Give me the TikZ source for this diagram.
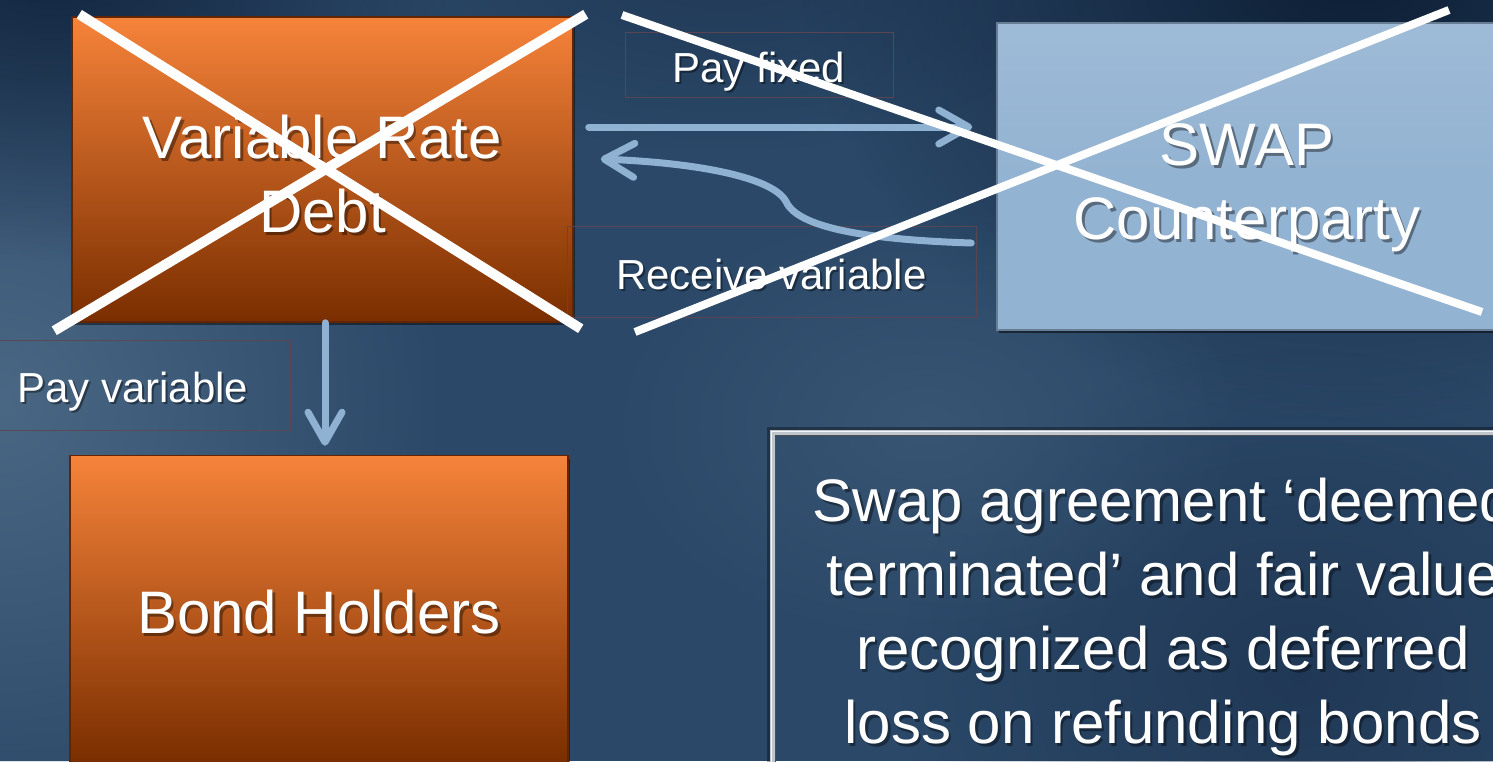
\documentclass[tikz,border=0pt]{standalone}
\usepackage{fontspec}
\setmainfont{Liberation Sans}
\usetikzlibrary{arrows.meta,calc,shadows,fadings}

\definecolor{bgbase}{HTML}{2B4868}
\definecolor{bgdark}{HTML}{0C1D33}
\definecolor{bglight}{HTML}{4A6784}
\definecolor{orangetop}{HTML}{F6833A}
\definecolor{orangemid}{HTML}{C4530E}
\definecolor{orangebot}{HTML}{7A2E00}
\definecolor{swapfill}{HTML}{93B3D2}
\definecolor{flowblue}{HTML}{8FB1D2}
\definecolor{labelframe}{HTML}{5E4650}
\definecolor{noteframe}{HTML}{BFC5CC}

\tikzfading[name=softglow, inner color=transparent!0, outer color=transparent!100]

\tikzset{
  bigtext/.style={text=white, align=center, font=\fontsize{60}{74}\selectfont},
  smalltext/.style={text=white, font=\fontsize{42}{50}\selectfont},
  txtshadow/.style={text=black, text opacity=0.4},
  orangebox/.style={rectangle, draw=orangebot!80!black, line width=1.5pt,
    top color=orangetop, middle color=orangemid, bottom color=orangebot,
    drop shadow={shadow xshift=2pt, shadow yshift=-3pt, opacity=0.45, fill=black}},
  bluebox/.style={rectangle, draw=swapfill!70!black, line width=1.5pt,
    top color=swapfill!90!white, bottom color=swapfill, middle color=swapfill,
    drop shadow={shadow xshift=2pt, shadow yshift=-3pt, opacity=0.5, fill=black}},
  labelbox/.style={rectangle, draw=labelframe, line width=0.8pt, opacity=0.9},
  flow/.style={draw=flowblue, line width=7pt, line cap=round,
    -{Straight Barb[length=30pt, width=34pt, round]}},
  cross/.style={draw=white, line width=10pt},
  crossthin/.style={draw=white, line width=8pt},
  glow/.style={path fading=softglow},
}

\begin{document}
\begin{tikzpicture}[x=1pt, y=-1pt]
  \path[use as bounding box, clip] (0,0) rectangle (1493,761);

  % slate-blue backdrop with a light glow on the left and dark upper corners
  \fill[bgbase] (0,0) rectangle (1493,761);
  \fill[bglight, glow] (-450,-50) rectangle (450,850);
  \fill[bgdark, glow] (800,-520) rectangle (1900,420);
  \fill[bgdark!80!bgbase, glow] (-350,-350) rectangle (450,260);
  \fill[bgdark!60!bgbase, glow, opacity=0.6] (350,-250) rectangle (1100,150);
  \fill[bgdark!50!bgbase, glow, opacity=0.7] (900,350) rectangle (1700,1000);
  \fill[bglight!70!bgbase, glow, opacity=0.6] (600,200) rectangle (1250,650);

  % boxes
  \node[orangebox, minimum width=501pt, minimum height=305pt] (vrd) at (322.5,169.5) {};
  \node[bluebox, minimum width=500pt, minimum height=307pt] (swap) at (1247,176.5) {};
  \node[orangebox, minimum width=498pt, minimum height=307pt] (bond) at (319,609) {};

  % note frame
  \node[rectangle, minimum width=780pt, minimum height=370pt] (note) at (1163,618) {};
  \draw[black, opacity=0.35, line width=3pt] ([shift={(-4pt,-4pt)}]note.south west) rectangle ([shift={(4pt,4pt)}]note.north east);
  \draw[noteframe, line width=5pt] (note.south west) rectangle (note.north east);
  \draw[white!85!noteframe, line width=1.5pt] ([shift={(-1.5pt,-1.5pt)}]note.south west) rectangle ([shift={(1.5pt,1.5pt)}]note.north east);
  \draw[black!60!noteframe, line width=1pt] ([shift={(3pt,3pt)}]note.south west) rectangle ([shift={(-3pt,-3pt)}]note.north east);

  % label frames
  \node[labelbox, minimum width=268pt, minimum height=65pt] (pfbox) at (759,64.5) {};
  \node[labelbox, minimum width=409pt, minimum height=91pt] (rvbox) at (771.5,271.5) {};
  \node[labelbox, minimum width=320pt, minimum height=90pt] (pvbox) at (130,385) {};

  % box texts with their shadows
  \node[bigtext, txtshadow] (vrd-sh) at ($(vrd.center)+(2.5,7.5)$) {Variable Rate\\Debt};
  \node[bigtext] (vrd-txt) at ($(vrd.center)+(0,4.5)$) {Variable Rate\\Debt};
  \node[bigtext, txtshadow] (swap-sh) at ($(swap.center)+(2.5,14)$) {SWAP\\Counterparty};
  \node[bigtext] (swap-txt) at ($(swap.center)+(0,11)$) {SWAP\\Counterparty};
  \node[bigtext, txtshadow] (bond-sh) at ($(bond.center)+(2.5,6)$) {Bond Holders};
  \node[bigtext] (bond-txt) at ($(bond.center)+(0,3)$) {Bond Holders};

  \node[bigtext, txtshadow] (note-sh) at ($(note.center)+(2.5,2)$) {Swap agreement ‘deemed\\terminated’ and fair value\\recognized as deferred\\loss on refunding bonds};
  \node[bigtext] (note-txt) at ($(note.center)+(0,-1)$) {Swap agreement ‘deemed\\terminated’ and fair value\\recognized as deferred\\loss on refunding bonds};

  % flow labels
  \node[smalltext, txtshadow] (pf-sh) at ($(pfbox.center)+(2,9)$) {Pay fixed};
  \node[smalltext] (pf) at ($(pfbox.center)+(0,7)$) {Pay fixed};
  \node[smalltext, txtshadow] (rv-sh) at ($(rvbox.center)+(2,5)$) {Receive variable};
  \node[smalltext] (rv) at ($(rvbox.center)+(0,3)$) {Receive variable};
  \node[smalltext, txtshadow, anchor=west] (pv-sh) at ($(pvbox.west)+(46,9)$) {Pay variable};
  \node[smalltext, anchor=west] (pv) at ($(pvbox.west)+(44,7)$) {Pay variable};

  % connectors
  \draw[flow] ($(vrd.east)+(15,-42.5)$) -- ($(swap.west)+(-24,-49.5)$);
  \draw[flow] ($(swap.west)+(-25,66.5)$)
      .. controls ($(swap.west)+(-117,63.5)$) and ($(swap.west)+(-197,53.5)$) .. ($(swap.west)+(-210,25.5)$)
      .. controls ($(swap.west)+(-222,1.5)$) and ($(vrd.east)+(127,-6.5)$) .. ($(vrd.east)+(27,-10.5)$);
  \draw[flow] ($(vrd.south)+(2.5,0)$) -- ($(bond.north)+(6,-9)$);

  % crossing-out strokes
  \draw[cross] ($(vrd.south west)+(-17,8)$) -- ($(vrd.north east)+(12,-2)$);
  \draw[cross] ($(vrd.north west)+(8,-2)$) -- ($(vrd.south east)+(7,6)$);
  \draw[crossthin] (622,15) -- (1482,312);
  \draw[crossthin] (635,332) -- (1449,10);
\end{tikzpicture}
\end{document}
